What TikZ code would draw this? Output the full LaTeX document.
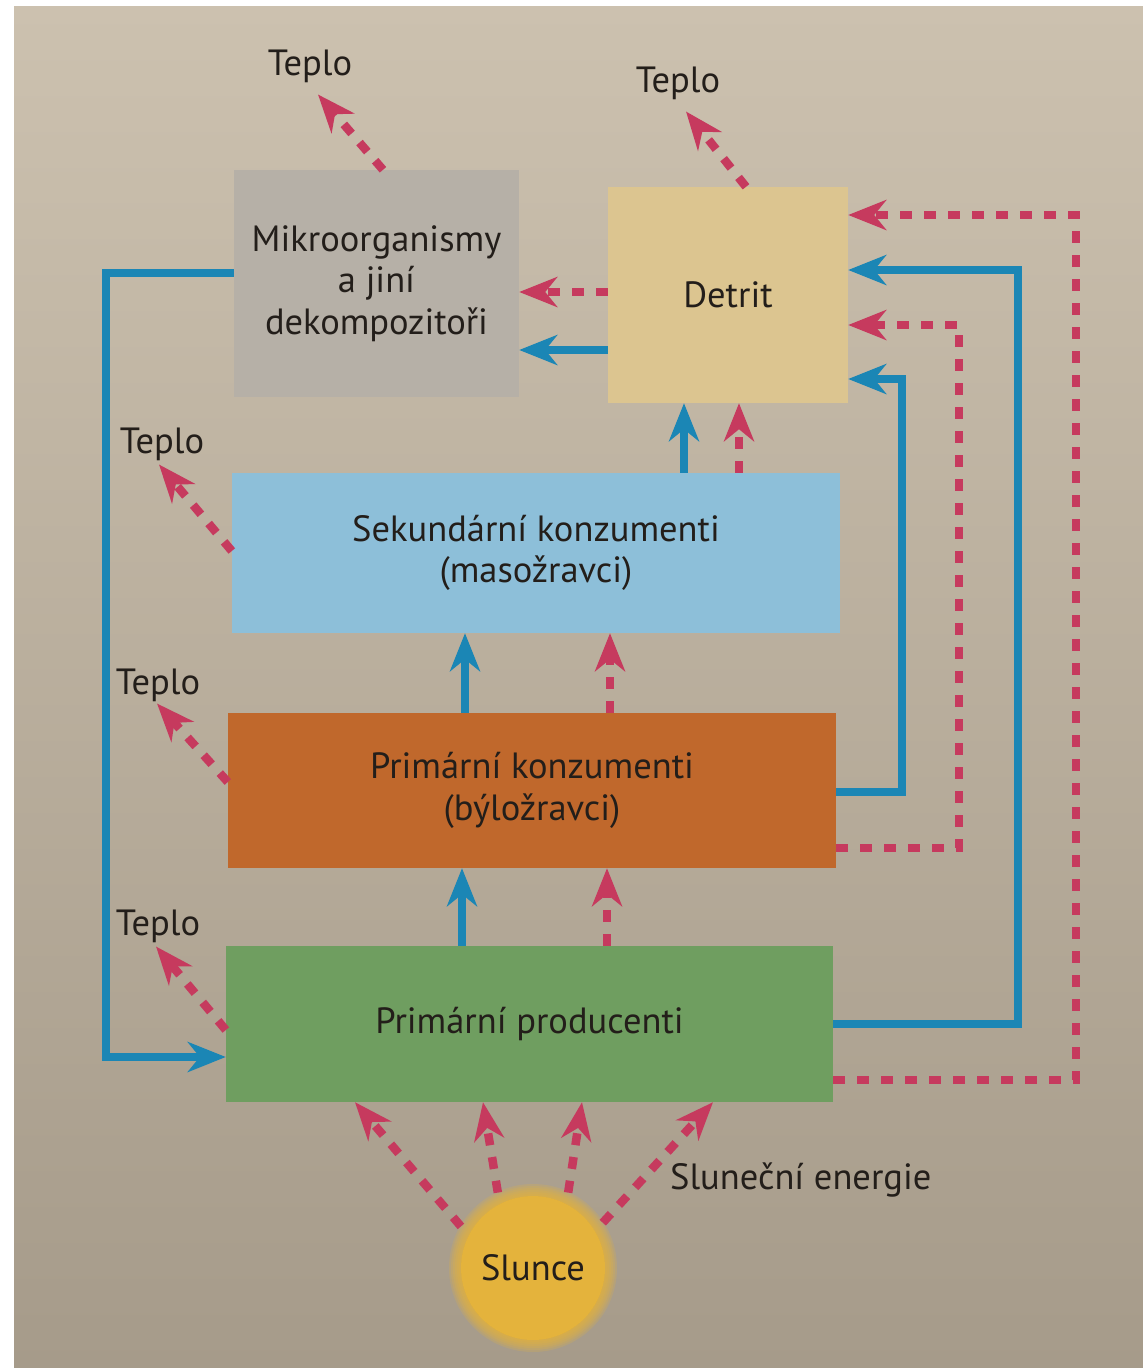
\documentclass[tikz,border=0pt]{standalone}
\usepackage{fontspec}
\setmainfont{PT Sans}
\usetikzlibrary{arrows.meta,calc}
\definecolor{bgtop}{HTML}{CCC1AF}
\definecolor{bgbot}{HTML}{A69B8A}
\definecolor{redc}{HTML}{C63A5E}
\definecolor{bluec}{HTML}{1B86B5}
\definecolor{grayc}{HTML}{B6B0A7}
\definecolor{detc}{HTML}{DCC590}
\definecolor{sekc}{HTML}{8DBFD9}
\definecolor{pkc}{HTML}{C0682C}
\definecolor{ppc}{HTML}{6F9E60}
\definecolor{sunc}{HTML}{E4B33C}
\definecolor{txt}{HTML}{231E1A}
\newcommand{\boxfont}{\fontsize{36.5}{41.5}\selectfont}
\begin{document}
\begin{tikzpicture}[x=1pt,y=-1pt,
  box/.style={rectangle, inner sep=0pt, align=center, font=\boxfont, text=txt},
  lbl/.style={inner sep=0pt, font=\boxfont, text=txt},
  tip/.style={-{Stealth[length=38pt,width=30pt,inset=12pt]}},
  blu/.style={draw=bluec, line width=8.5pt, tip},
  redd/.style={draw=redc, line width=8.5pt, dash pattern=on 12pt off 12pt, tip}]
% background
\fill[white] (0,0) rectangle (1143,1368);
\shade[top color=bgtop, bottom color=bgbot] (14,6) rectangle (1143,1368);
\useasboundingbox (0,0) rectangle (1143,1368);

% boxes
\node[box, fill=grayc, minimum width=285pt, minimum height=227pt] (mikro) at (376.5,283.5) {Mikroorganismy\\a jiní\\dekompozitoři};
\node[box, fill=detc, minimum width=240pt, minimum height=216pt] (detrit) at (728,295) {Detrit};
\node[box, fill=sekc, minimum width=608pt, minimum height=160pt] (sek) at (536,553) {Sekundární konzumenti\\(masožravci)};
\node[box, fill=pkc, minimum width=608pt, minimum height=155pt] (pk) at (532,790.5) {Primární konzumenti\\(býložravci)};
\node[box, fill=ppc, minimum width=607pt, minimum height=156pt] (pp) at (529.5,1024) {Primární producenti};

% sun
\fill[sunc] (533,1268) circle (72);
\foreach \r in {74,76,...,84} { \fill[sunc, opacity=0.22] (533,1268) circle (\r); }
\node[circle, minimum size=166pt, inner sep=0pt, font=\boxfont, text=txt] (sun) at (533,1268) {Slunce};
\node[lbl, anchor=base west] (se) at (670,1189) {Sluneční energie};

% Teplo labels
\node[lbl, anchor=base] (t1) at (310,75) {Teplo};
\node[lbl, anchor=base] (t2) at (678,92) {Teplo};
\node[lbl, anchor=base] (t3) at (162,453) {Teplo};
\node[lbl, anchor=base] (t4) at (158,694) {Teplo};
\node[lbl, anchor=base] (t5) at (158,935) {Teplo};

% heat arrows
\draw[redd] (mikro.north -| 383,0) -- ($(t1.south)+(8,12)$);
\draw[redd] (detrit.north -| 746,0) -- ($(t2.south)+(8,12)$);
\draw[redd] (sek.west |- 0,551) -- ($(t3.south)+(-3,4)$);
\draw[redd] (pk.west |- 0,782) -- ($(t4.south)+(-1,2)$);
\draw[redd] (pp.west |- 0,1030) -- ($(t5.south)+(-2,4)$);

% detrit -> mikro
\draw[redd] (detrit.west |- 0,292) -- (mikro.east |- 0,292);
\draw[blu] (detrit.west |- 0,350) -- (mikro.east |- 0,350);

% mikro -> producers loop
\draw[blu] (mikro.west |- 0,273) -- (106,273) -- (106,1057) -- (pp.west |- 0,1057);

% vertical flows
\draw[blu] (sek.north -| 684,0) -- (detrit.south -| 684,0);
\draw[redd] (sek.north -| 739,0) -- (detrit.south -| 739,0);
\draw[blu] (pk.north -| 465,0) -- (sek.south -| 465,0);
\draw[redd] (pk.north -| 610,0) -- (sek.south -| 610,0);
\draw[blu] (pp.north -| 462,0) -- (pk.south -| 462,0);
\draw[redd] (pp.north -| 607,0) -- (pk.south -| 607,0);

% right feedback loops to detrit
\draw[blu] (pk.east |- 0,792) -- (902,792) -- (902,379) -- (detrit.east |- 0,379);
\draw[redd] (pk.east |- 0,848) -- (959,848) -- (959,325) -- (detrit.east |- 0,325);
\draw[blu] (pp.east |- 0,1024) -- (1018,1024) -- (1018,270) -- (detrit.east |- 0,270);
\draw[redd] (pp.east |- 0,1080) -- (1076,1080) -- (1076,215) -- (detrit.east |- 0,215);

% solar energy
\draw[redd] (sun.150) -- (pp.south -| 355,0);
\draw[redd] (sun.115) -- (pp.south -| 483,0);
\draw[redd] (sun.65) -- (pp.south -| 582,0);
\draw[redd] (sun.33) -- (pp.south -| 713,0);
\end{tikzpicture}
\end{document}
